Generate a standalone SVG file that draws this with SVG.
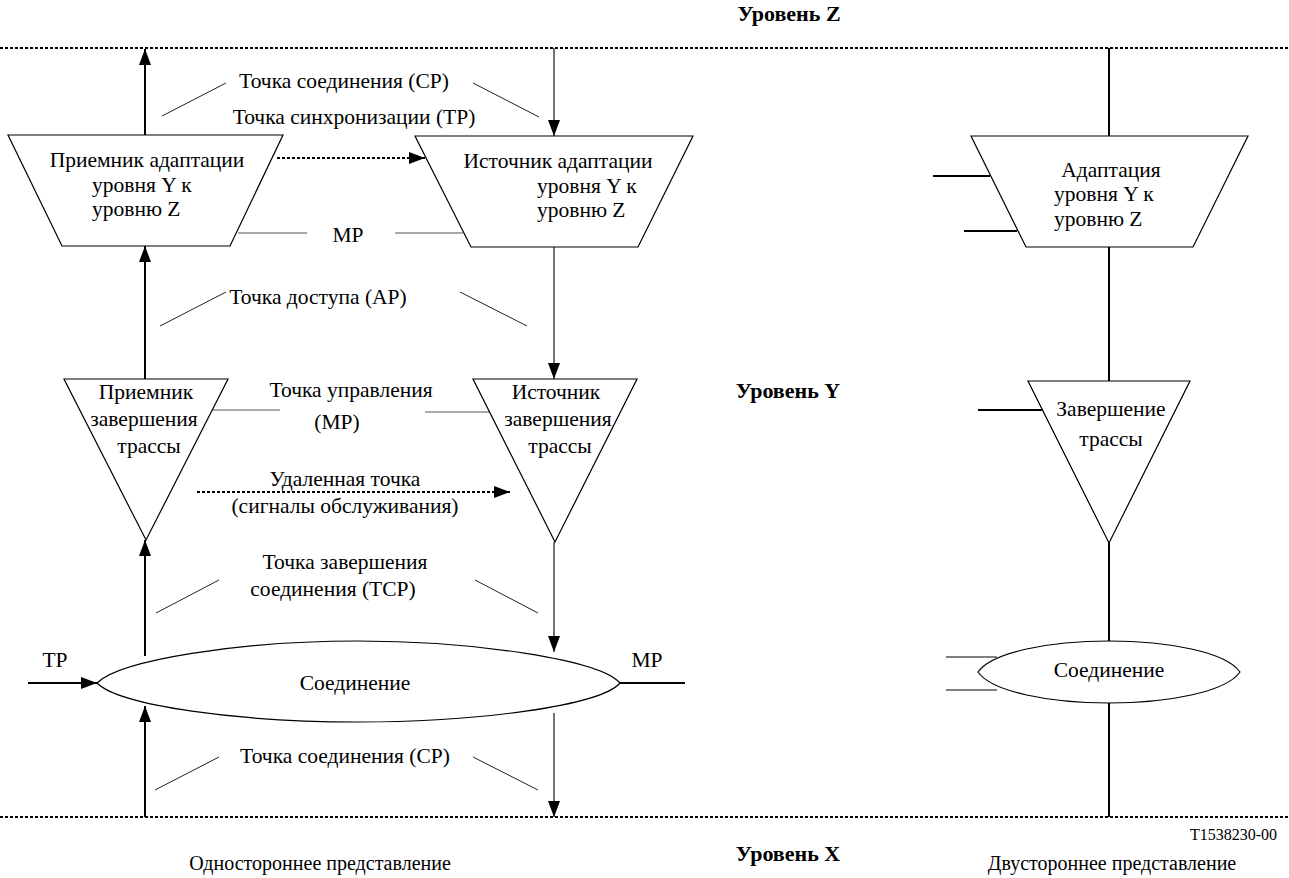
<svg xmlns="http://www.w3.org/2000/svg" width="1289" height="878" viewBox="0 0 1289 878">
  <style>
    text { font-family: "Liberation Serif", "DejaVu Serif", serif; font-size: 21.5px; fill: #000; }
    .c { text-anchor: middle; }
    .b { font-weight: bold; font-size: 22px; }
    .s { font-size: 16px; }
    .cap { font-size: 20px; }
    .shape { fill: #fff; stroke: #000; stroke-width: 1.2; }
    .thick { stroke: #000; stroke-width: 2; fill: none; }
    .thin { stroke: #000; stroke-width: 1.1; fill: none; }
    .lead { stroke: #222; stroke-width: 1; fill: none; }
    .grey { stroke: #555; stroke-width: 1.2; fill: none; }
    .dots { stroke: #000; stroke-width: 2; stroke-dasharray: 3 2; fill: none; }
  </style>
  <defs>
    <marker id="ah" viewBox="0 0 16 12" refX="16" refY="6" markerWidth="16" markerHeight="12" markerUnits="userSpaceOnUse" orient="auto">
      <path d="M0,0 L16,6 L0,12 z" fill="#000"/>
    </marker>
  </defs>

  <rect width="1289" height="878" fill="#fff"/>

  <!-- layer boundaries -->
  <g id="layers">
    <line class="dots" x1="0" y1="48" x2="1289" y2="48"/>
    <line class="dots" x1="0" y1="817" x2="1289" y2="817"/>
    <text class="b c" x="789" y="21">Уровень Z</text>
    <text class="b c" x="788" y="398">Уровень Y</text>
    <text class="b c" x="788" y="861">Уровень X</text>
  </g>

  <!-- connectors -->
  <g id="connectors">
    <!-- unidirectional: sink column -->
    <line class="thick" x1="145" y1="135" x2="145" y2="49" marker-end="url(#ah)"/>
    <line class="thick" x1="145" y1="379" x2="145" y2="246" marker-end="url(#ah)"/>
    <line class="thick" x1="145" y1="656" x2="145" y2="540" marker-end="url(#ah)"/>
    <line class="thick" x1="145" y1="817" x2="145" y2="706" marker-end="url(#ah)"/>
    <!-- unidirectional: source column -->
    <line class="thin" x1="554" y1="48" x2="554" y2="136" marker-end="url(#ah)"/>
    <line class="thin" x1="554" y1="247" x2="554" y2="379" marker-end="url(#ah)"/>
    <line class="thin" x1="554" y1="542" x2="554" y2="652" marker-end="url(#ah)"/>
    <line class="thin" x1="554" y1="713" x2="554" y2="817" marker-end="url(#ah)"/>
    <!-- dotted signal paths -->
    <line class="dots" x1="277" y1="158" x2="425" y2="158" marker-end="url(#ah)"/>
    <line class="dots" x1="197" y1="492" x2="510" y2="492" marker-end="url(#ah)"/>
    <!-- TP input and MP output of the connection -->
    <line class="thick" x1="28" y1="683" x2="97" y2="683" marker-end="url(#ah)"/>
    <line class="thick" x1="620" y1="683" x2="685" y2="683"/>
    <!-- MP stubs -->
    <line class="grey" x1="238" y1="233" x2="307" y2="233"/>
    <line class="grey" x1="395" y1="233" x2="463" y2="233"/>
    <line class="grey" x1="212" y1="410" x2="280" y2="410"/>
    <line class="grey" x1="425" y1="412" x2="490" y2="412"/>
    <!-- leader lines -->
    <line class="lead" x1="162" y1="116" x2="226" y2="83"/>
    <line class="lead" x1="473" y1="83" x2="539" y2="117"/>
    <line class="lead" x1="160" y1="326" x2="226" y2="292"/>
    <line class="lead" x1="460" y1="292" x2="527" y2="326"/>
    <line class="lead" x1="156" y1="613" x2="219" y2="580"/>
    <line class="lead" x1="475" y1="580" x2="538" y2="613"/>
    <line class="lead" x1="155" y1="790" x2="219" y2="757"/>
    <line class="lead" x1="473" y1="757" x2="538" y2="790"/>
    <!-- bidirectional column -->
    <line class="thick" x1="1109" y1="48" x2="1109" y2="817"/>
    <line class="thick" x1="933" y1="176" x2="990" y2="176"/>
    <line class="thick" x1="964" y1="231" x2="1017" y2="231"/>
    <line class="thick" x1="978" y1="410" x2="1042" y2="410"/>
    <line class="thin" x1="946" y1="657" x2="997" y2="657"/>
    <line class="thin" x1="946" y1="690" x2="997" y2="690"/>
  </g>

  <!-- point labels -->
  <g id="labels">
    <text class="c" x="344" y="88">Точка соединения (CP)</text>
    <text class="c" x="354" y="124">Точка синхронизации (TP)</text>
    <text class="c" x="348" y="242">MP</text>
    <text class="c" x="318" y="304">Точка доступа (AP)</text>
    <text class="c" x="351" y="397">Точка управления</text>
    <text class="c" x="337" y="429">(MP)</text>
    <text class="c" x="345" y="486">Удаленная точка</text>
    <text class="c" x="345" y="513">(сигналы обслуживания)</text>
    <text class="c" x="345" y="569">Точка завершения</text>
    <text class="c" x="333" y="596">соединения (TCP)</text>
    <text class="c" x="55" y="667">TP</text>
    <text class="c" x="647" y="667">MP</text>
    <text class="c" x="345" y="763">Точка соединения (CP)</text>
  </g>

  <g id="adapt-sink">
    <polygon class="shape" points="8,135 283,135 230,246 62,246"/>
    <text class="c" x="147" y="167">Приемник адаптации</text>
    <text x="92" y="192">уровня Y к</text>
    <text x="92" y="216">уровню Z</text>
  </g>

  <g id="adapt-source">
    <polygon class="shape" points="415,136 693,136 638,247 471,247"/>
    <text class="c" x="558" y="168">Источник адаптации</text>
    <text x="537" y="193">уровня Y к</text>
    <text x="537" y="217">уровню Z</text>
  </g>

  <g id="trail-sink">
    <polygon class="shape" points="64,379 228,379 146,540"/>
    <text class="c" x="146" y="399">Приемник</text>
    <text class="c" x="144" y="426">завершения</text>
    <text class="c" x="149" y="453">трассы</text>
  </g>

  <g id="trail-source">
    <polygon class="shape" points="473,379 637,379 555,542"/>
    <text class="c" x="556" y="399">Источник</text>
    <text class="c" x="558" y="426">завершения</text>
    <text class="c" x="560" y="453">трассы</text>
  </g>

  <g id="connection">
    <path class="shape" d="M97,683 C120,660 240,641 358,641 C476,641 600,660 620,683 C600,706 476,722 358,722 C240,722 120,706 97,683 Z"/>
    <text class="c" x="355" y="690">Соединение</text>
  </g>

  <g id="adapt-bidir">
    <polygon class="shape" points="971,136 1248,136 1193,247 1026,247"/>
    <text class="c" x="1111" y="177">Адаптация</text>
    <text x="1054" y="201">уровня Y к</text>
    <text x="1054" y="226">уровню Z</text>
  </g>

  <g id="trail-bidir">
    <polygon class="shape" points="1028,381 1190,381 1109,543"/>
    <text class="c" x="1111" y="416">Завершение</text>
    <text class="c" x="1111" y="446">трассы</text>
  </g>

  <g id="connection-bidir">
    <path class="shape" d="M978,672 C992,652 1050,641 1109,641 C1168,641 1226,652 1240,672 C1226,692 1168,703 1109,703 C1050,703 992,692 978,672 Z"/>
    <text class="c" x="1109" y="677">Соединение</text>
  </g>

  <g id="captions">
    <text class="s" x="1277" y="840" text-anchor="end">T1538230-00</text>
    <text class="c cap" x="320" y="870">Одностороннее представление</text>
    <text class="c cap" x="1112" y="870">Двустороннее представление</text>
  </g>
</svg>
